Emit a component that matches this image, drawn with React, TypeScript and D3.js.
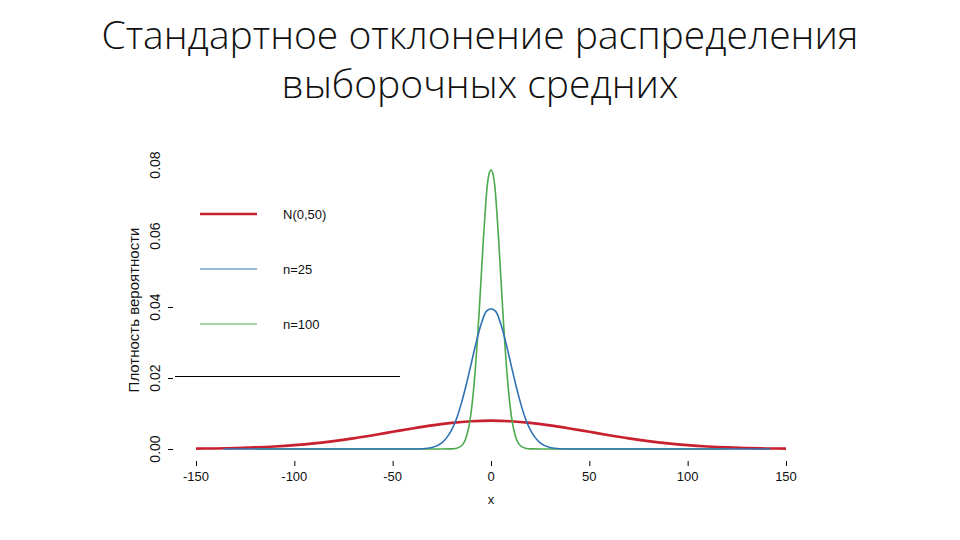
import * as d3 from "d3";

// title lines
const titleLines = ["Стандартное отклонение распределения", "выборочных средних"];

// x ticks / y ticks
const xTicks = [-150, -100, -50, 0, 50, 100, 150];
const yTicks = [0, 0.02, 0.04, 0.06, 0.08];
const yTickMarks = [0, 0.02, 0.04];

// N(0,50)
const redX = [-150, -140, -130, -120, -110, -100, -90, -80, -70, -60, -50, -40, -30, -20, -10, 0,
  10, 20, 30, 40, 50, 60, 70, 80, 90, 100, 110, 120, 130, 140, 150];
const redY = [0.0001, 0.00016, 0.00027, 0.00045, 0.00071, 0.00108, 0.00158, 0.00222, 0.003, 0.00389,
  0.00484, 0.00579, 0.00666, 0.00737, 0.00782, 0.00798, 0.00782, 0.00737, 0.00666, 0.00579, 0.00484,
  0.00389, 0.003, 0.00222, 0.00158, 0.00108, 0.00071, 0.00045, 0.00027, 0.00016, 0.0001];

// n=25
const blueX = [-136, -60, -40, -35, -30, -25, -22.5, -20, -17.5, -15, -12.5, -10, -7.5, -5, -2.5, 0,
  2.5, 5, 7.5, 10, 12.5, 15, 17.5, 20, 22.5, 25, 30, 35, 40, 60, 142];
const blueY = [0, 0, 0.00001, 0.00009, 0.00044, 0.00175, 0.0032, 0.0054, 0.0086, 0.013, 0.0183, 0.0242,
  0.0301, 0.0352, 0.0387, 0.0395, 0.0387, 0.0352, 0.0301, 0.0242, 0.0183, 0.013, 0.0086, 0.0054, 0.0032,
  0.00175, 0.00044, 0.00009, 0.00001, 0, 0];

// n=100
const greenX = [-120, -30, -20, -17.5, -15, -14, -13, -12, -11, -10, -9, -8, -7, -6, -5, -4, -3, -2, -1, 0,
  1, 2, 3, 4, 5, 6, 7, 8, 9, 10, 11, 12, 13, 14, 15, 17.5, 20, 30, 120];
const greenY = [0, 0, 0.00003, 0.0002, 0.0009, 0.0016, 0.0027, 0.0045, 0.0071, 0.0108, 0.0158, 0.0222,
  0.03, 0.0389, 0.0484, 0.0579, 0.0666, 0.0737, 0.0775, 0.0786, 0.0775, 0.0737, 0.0666, 0.0579, 0.0484,
  0.0389, 0.03, 0.0222, 0.0158, 0.0108, 0.0071, 0.0045, 0.0027, 0.0016, 0.0009, 0.0002, 0.00003, 0, 0];

const legendLabels = ["N(0,50)", "n=25", "n=100"];
const colors = ["#c8202f", "#2f72b3", "#4caa4c"];
const widths = [2.6, 1.6, 1.6];

const W = 960;
const H = 540;
const margin = { top: 165, right: 174, bottom: 91, left: 196 };

const App = () => {
  const x = d3.scaleLinear().domain([-150, 150]).range([margin.left, W - margin.right]);
  const y = d3.scaleLinear().domain([0, 0.08]).range([H - margin.bottom, margin.top]);

  const line = d3
    .line<[number, number]>()
    .x((d) => x(d[0]))
    .y((d) => y(d[1]))
    .curve(d3.curveMonotoneX);

  const series = [
    { xs: redX, ys: redY, c: colors[0], w: widths[0] },
    { xs: greenX, ys: greenY, c: colors[2], w: widths[2] },
    { xs: blueX, ys: blueY, c: colors[1], w: widths[1] },
  ];

  const axisFont = "'Liberation Sans', Arial, sans-serif";
  const y0 = y(0);

  return (
    <svg width={W} height={H} style={{ position: "absolute", left: 0, top: 0, background: "#fff" }}>
      {titleLines.map((t, i) => (
        <text key={t} x={480} y={49 + i * 49} textAnchor="middle"
          fontFamily="'Open Sans', sans-serif" fontWeight={300} fontSize={39} fill="#111">
          {t}
        </text>
      ))}

      {/* legend box bottom edge */}
      <line x1={175} x2={400} y1={376.5} y2={376.5} stroke="#000" strokeWidth={1} />

      {series.map((s, i) => (
        <path key={i} d={line(s.xs.map((v, j) => [v, s.ys[j]]) as [number, number][]) || ""}
          fill="none" stroke={s.c} strokeWidth={s.w} strokeLinejoin="round" />
      ))}

      {/* x axis ticks */}
      {xTicks.map((t) => (
        <g key={t}>
          <line x1={x(t) + 0.5} x2={x(t) + 0.5} y1={y0 + 12} y2={y0 + 17} stroke="#000" />
          <text x={x(t)} y={y0 + 32} textAnchor="middle" fontFamily={axisFont} fontSize={13} fill="#111">
            {t}
          </text>
        </g>
      ))}
      <text x={x(0)} y={y0 + 55} textAnchor="middle" fontFamily={axisFont} fontSize={13} fill="#111">x</text>

      {/* y axis */}
      {yTickMarks.map((t) => (
        <line key={t} x1={168} x2={173} y1={Math.round(y(t)) + 0.5} y2={Math.round(y(t)) + 0.5} stroke="#000" />
      ))}
      {yTicks.map((t) => (
        <text key={t} transform={`translate(160,${y(t)}) rotate(-90)`} textAnchor="middle"
          fontFamily={axisFont} fontSize={14} fill="#111">
          {d3.format(".2f")(t)}
        </text>
      ))}
      <text transform={`translate(139,310) rotate(-90)`} textAnchor="middle"
        fontFamily={axisFont} fontSize={15} fill="#111">
        Плотность вероятности
      </text>

      {/* legend */}
      {legendLabels.map((l, i) => (
        <g key={l}>
          <line x1={200} x2={257} y1={214 + i * 55} y2={214 + i * 55} stroke={colors[i]}
            strokeWidth={i === 0 ? 2.6 : 1.2} />
          <text x={283} y={219 + i * 55} fontFamily={axisFont} fontSize={13} fill="#111">{l}</text>
        </g>
      ))}
    </svg>
  );
};

export default App;
